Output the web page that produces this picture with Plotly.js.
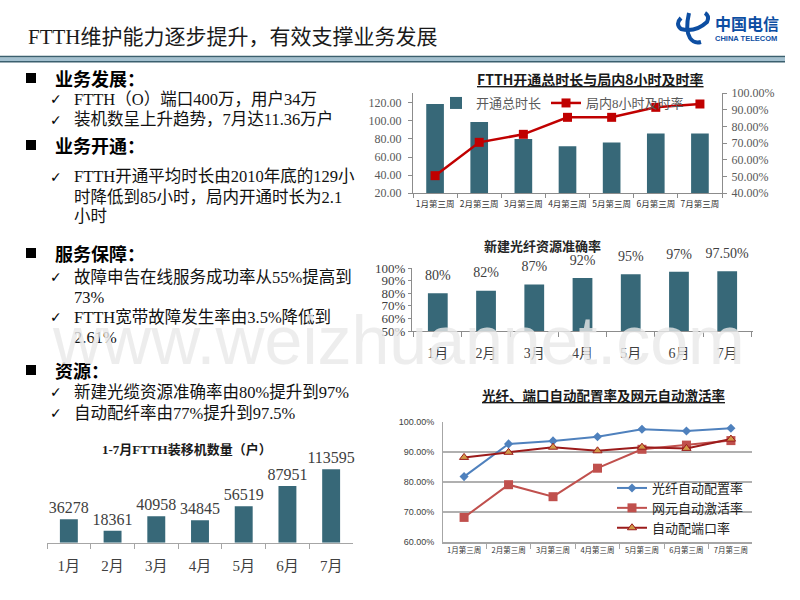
<!DOCTYPE html>
<html><head><meta charset="utf-8">
<script src="https://cdn.plot.ly/plotly-3.0.1.min.js"></script>
<style>html,body{margin:0;padding:0;background:#fff}#c{width:800px;height:600px}</style>
</head><body><div id="c"></div>
<script>
// ---- Chart 1: FTTH开通总时长与局内8小时及时率
const weeks = ['1月第三周','2月第三周','3月第三周','4月第三周','5月第三周','6月第三周','7月第三周'];
const openHours = [119, 99, 80, 72, 76, 86, 86];
const onTime8h = [0.504, 0.704, 0.752, 0.854, 0.854, 0.914, 0.934];
// ---- Chart 2: 新建光纤资源准确率
const months = ['1月','2月','3月','4月','5月','6月','7月'];
const fiberAccuracy = [0.80, 0.82, 0.87, 0.92, 0.95, 0.97, 0.975];
const fiberAccuracyLabels = ['80%','82%','87%','92%','95%','97%','97.50%'];
// ---- Chart 3: 光纤、端口自动配置率及网元自动激活率
const fiberAutoConfig = [0.818, 0.927, 0.937, 0.951, 0.976, 0.970, 0.979];
const neAutoActivate  = [0.682, 0.791, 0.751, 0.846, 0.909, 0.923, 0.938];
const portAutoConfig  = [0.882, 0.899, 0.916, 0.904, 0.916, 0.912, 0.943];
// ---- Chart 4: 1-7月FTTH装移机数量（户）
const installs = [36278, 18361, 40958, 34845, 56519, 87951, 113595];

const W = 800, H = 600;
const X = p => p / W;
const Y = p => 1 - p / H;
const BAR = '#376878';
const SERIF = 'Liberation Serif, Noto Sans CJK SC, serif';
const SANS = 'Noto Sans CJK SC, Liberation Sans, sans-serif';

function txt(text, px, py, size, o) {
  o = o || {};
  return {text, x: X(px), y: Y(py), xref: 'paper', yref: 'paper',
    xanchor: o.xa || 'left', yanchor: 'middle', showarrow: false,
    font: {size, family: o.family || SERIF, color: o.color || '#111', weight: o.weight || 'normal'}};
}
function pathPx(str) {
  let i = 0;
  return str.replace(/-?\d+(\.\d+)?/g, m => {
    const v = parseFloat(m);
    const r = (i % 2 === 0) ? X(v) : Y(v);
    i++;
    return r.toFixed(5);
  });
}

const traces = [
  {type: 'bar', x: weeks, y: openHours, xaxis: 'x', yaxis: 'y', width: 0.4,
   marker: {color: BAR}, name: '开通总时长', legend: 'legend'},
  {type: 'scatter', mode: 'lines+markers', x: weeks, y: onTime8h, xaxis: 'x', yaxis: 'y2',
   line: {color: '#C00000', width: 2.5}, marker: {symbol: 'square', size: 9, color: '#C00000'},
   name: '局内8小时及时率', legend: 'legend'},

  {type: 'bar', x: months, y: fiberAccuracy, xaxis: 'x2', yaxis: 'y3', width: 0.41,
   marker: {color: BAR}, showlegend: false},
  {type: 'scatter', mode: 'markers+text', x: months, y: fiberAccuracy, text: fiberAccuracyLabels,
   xaxis: 'x2', yaxis: 'y3', textposition: 'top center', cliponaxis: false,
   marker: {size: 14, opacity: 0},
   textfont: {family: SERIF, size: 14, color: '#404040'}, showlegend: false},

  {type: 'scatter', mode: 'lines+markers', x: weeks, y: fiberAutoConfig, xaxis: 'x3', yaxis: 'y4',
   line: {color: '#4F81BD', width: 2}, marker: {symbol: 'diamond', size: 7, color: '#4F81BD'},
   name: '光纤自动配置率', legend: 'legend2'},
  {type: 'scatter', mode: 'lines+markers', x: weeks, y: neAutoActivate, xaxis: 'x3', yaxis: 'y4',
   line: {color: '#C0504D', width: 2}, marker: {symbol: 'square', size: 9, color: '#C0504D'},
   name: '网元自动激活率', legend: 'legend2'},
  {type: 'scatter', mode: 'lines+markers', x: weeks, y: portAutoConfig, xaxis: 'x3', yaxis: 'y4',
   line: {color: '#9B1B1B', width: 2},
   marker: {symbol: 'triangle-up', size: 8, color: '#D09A48', line: {color: '#9B1B1B', width: 1}},
   name: '自动配端口率', legend: 'legend2'},

  {type: 'bar', x: months, y: installs, xaxis: 'x4', yaxis: 'y5', width: 0.41,
   marker: {color: BAR}, text: installs.map(String), textposition: 'outside', cliponaxis: false,
   constraintext: 'none',
   textfont: {family: SERIF, size: 16, color: '#404040'}, showlegend: false}
];

const axLine = '#8C8C8C';
const layout = {
  width: W, height: H, margin: {l: 0, r: 0, t: 0, b: 0},
  paper_bgcolor: '#fff', plot_bgcolor: 'rgba(0,0,0,0)',
  hovermode: false, bargap: 0.5,
  // Chart 1
  xaxis: {domain: [X(413), X(722)], anchor: 'y', showline: true, linecolor: axLine,
    ticks: 'outside', tickson: 'boundaries', ticklen: 4, tickcolor: axLine, tickangle: 0,
    tickfont: {family: SANS, size: 8.5, color: '#333'}, ticklabelstandoff: 3, showgrid: false},
  yaxis: {domain: [Y(193), Y(93)], anchor: 'x', range: [20, 131.1], tickvals: [20,40,60,80,100,120],
    tickformat: '.2f', showline: true, linecolor: axLine, ticks: 'outside', ticklen: 4, tickcolor: axLine,
    ticklabelstandoff: 4,
    tickfont: {family: SERIF, size: 12, color: '#595959'}, showgrid: false, zeroline: false},
  yaxis2: {overlaying: 'y', anchor: 'x', side: 'right', range: [0.4, 1.0], dtick: 0.1, tickformat: '.2%',
    showline: true, linecolor: axLine, ticks: 'outside', ticklen: 4, tickcolor: axLine,
    ticklabelstandoff: 2,
    tickfont: {family: SERIF, size: 12, color: '#595959'}, showgrid: false, zeroline: false},
  // Chart 2
  xaxis2: {domain: [X(412), X(753)], anchor: 'y3', showline: true, linecolor: axLine,
    ticks: 'outside', tickson: 'boundaries', ticklen: 5, tickcolor: axLine, tickangle: 0,
    tickfont: {family: SERIF, size: 14, color: '#404040'}, ticklabelstandoff: 9, showgrid: false},
  yaxis3: {domain: [Y(331), Y(268)], anchor: 'x2', range: [0.5, 1.0], tickvals: [0.5,0.6,0.7,0.8,0.9,1.0],
    tickformat: '.0%', showline: true, linecolor: axLine, ticks: 'outside', ticklen: 3, tickcolor: axLine,
    tickfont: {family: SERIF, size: 13, color: '#404040'}, showgrid: false, zeroline: false},
  // Chart 3
  xaxis3: {domain: [X(443), X(752)], anchor: 'y4', showline: true, linecolor: '#A6A6A6', linewidth: 1.5,
    ticks: 'outside', tickson: 'boundaries', ticklen: 5, tickcolor: '#A6A6A6', tickangle: 0,
    tickfont: {family: SANS, size: 7.5, color: '#333'}, showgrid: false},
  yaxis4: {domain: [Y(542), Y(422)], anchor: 'x3', range: [0.6, 1.0], dtick: 0.1, tickformat: '.2%',
    showline: true, linecolor: '#A6A6A6', ticks: '', ticklabelstandoff: 6,
    tickfont: {family: 'Liberation Sans, sans-serif', size: 9, color: '#404040'},
    showgrid: true, gridcolor: '#B0B0B0', gridwidth: 1.5, zeroline: false},
  // Chart 4
  xaxis4: {domain: [X(47), X(353)], anchor: 'y5', showline: true, linecolor: '#A6A6A6',
    ticks: 'outside', tickson: 'boundaries', ticklen: 5, tickcolor: '#A6A6A6', tickangle: 0,
    tickfont: {family: SERIF, size: 15, color: '#404040'}, ticklabelstandoff: 9, showgrid: false},
  yaxis5: {domain: [Y(542.7), Y(465.2)], anchor: 'x4', range: [0, 120000], showticklabels: false,
    showgrid: false, zeroline: false, showline: false, ticks: ''},

  legend: {x: X(436), y: Y(88), xanchor: 'left', yanchor: 'top', orientation: 'h',
    bgcolor: 'rgba(0,0,0,0)', font: {family: SERIF, size: 13, color: '#595959'}, itemwidth: 30},
  legend2: {x: X(612), y: Y(473), xanchor: 'left', yanchor: 'top', orientation: 'v',
    bgcolor: 'rgba(0,0,0,0)', font: {family: SANS, size: 13, color: '#262626'}},

  shapes: [
    {type: 'rect', xref: 'paper', yref: 'paper', x0: 0, x1: X(785), y0: Y(61), y1: Y(57.3),
     fillcolor: '#A3C0CF', line: {width: 0}},
    {type: 'line', xref: 'paper', yref: 'paper', x0: 0, x1: X(785), y0: Y(56.5), y1: Y(56.5),
     line: {color: '#3B5F6E', width: 1.5}},
    {type: 'line', xref: 'paper', yref: 'paper', x0: 0, x1: X(785), y0: Y(61.8), y1: Y(61.8),
     line: {color: '#3B5F6E', width: 1.5}},
    ...[78, 145, 253, 370].map(c => ({type: 'rect', xref: 'paper', yref: 'paper',
      x0: X(26), x1: X(36), y0: Y(c + 5), y1: Y(c - 5), fillcolor: '#000', line: {width: 0}})),
    {type: 'path', xref: 'paper', yref: 'paper', path: pathPx('M 689 13 Q 685 30 690 38 Q 694 44 701 42'),
     line: {color: '#0D4EA2', width: 4}},
    {type: 'path', xref: 'paper', yref: 'paper', path: pathPx('M 681 18 Q 675 24 681 29 Q 695 33 707 22 Q 710 16 705 13'),
     line: {color: '#0D4EA2', width: 4}}
  ],

  annotations: [
    txt('FTTH维护能力逐步提升，有效支撑业务发展', 26, 37, 21, {color: '#1a1a1a'}),
    txt('<b>中国电信</b>', 713, 23, 16, {family: SANS, color: '#0D4EA2'}),
    txt('<b>CHINA TELECOM</b>', 713, 39, 7.5, {family: 'Liberation Sans Narrow, Liberation Sans, sans-serif', color: '#0D4EA2'}),

    txt('业务发展：', 53, 78, 18, {family: SANS, weight: 'bold', color: '#000'}),
    txt('✓', 48, 99, 14, {family: 'DejaVu Sans', color: '#000'}),
    txt('FTTH（O）端口400万，用户34万', 72, 99, 16.5),
    txt('✓', 48, 120, 14, {family: 'DejaVu Sans', color: '#000'}),
    txt('装机数呈上升趋势，7月达11.36万户', 72, 120, 16.5),
    txt('业务开通：', 53, 145, 18, {family: SANS, weight: 'bold', color: '#000'}),
    txt('✓', 48, 177, 14, {family: 'DejaVu Sans', color: '#000'}),
    txt('FTTH开通平均时长由2010年底的129小', 72, 177, 16.5),
    txt('时降低到85小时，局内开通时长为2.1', 72, 197, 16.5),
    txt('小时', 72, 216, 16.5),
    txt('服务保障：', 53, 253, 18, {family: SANS, weight: 'bold', color: '#000'}),
    txt('✓', 48, 277, 14, {family: 'DejaVu Sans', color: '#000'}),
    txt('故障申告在线服务成功率从55%提高到', 72, 277, 16.5),
    txt('73%', 72, 297, 16.5),
    txt('✓', 48, 317, 14, {family: 'DejaVu Sans', color: '#000'}),
    txt('FTTH宽带故障发生率由3.5%降低到', 72, 317, 16.5),
    txt('2.61%', 72, 337, 16.5),
    txt('资源：', 53, 370, 18, {family: SANS, weight: 'bold', color: '#000'}),
    txt('✓', 48, 392, 14, {family: 'DejaVu Sans', color: '#000'}),
    txt('新建光缆资源准确率由80%提升到97%', 72, 392, 16.5),
    txt('✓', 48, 413, 14, {family: 'DejaVu Sans', color: '#000'}),
    txt('自动配纤率由77%提升到97.5%', 72, 413, 16.5),

    txt('<b><u>FTTH开通总时长与局内8小时及时率</u></b>', 590, 79, 14, {xa: 'center', family: SANS, color: '#1a1a1a'}),
    txt('<b>新建光纤资源准确率</b>', 542, 245, 13, {xa: 'center', family: SANS, color: '#262626'}),
    txt('<b><u>光纤、端口自动配置率及网元自动激活率</u></b>', 603, 395, 13.5, {xa: 'center', family: SANS, color: '#1a1a1a'}),
    txt('<b>1-7月FTTH装移机数量（户）</b>', 187, 449, 13, {xa: 'center', color: '#1a1a1a'}),

    txt('www.weizhuannet.com', 50, 340, 68, {family: 'Liberation Sans, Arial, sans-serif', color: 'rgba(232,232,232,0.8)'})
  ]
};

Plotly.newPlot('c', traces, layout, {staticPlot: true, displayModeBar: false});
</script>
</body></html>
